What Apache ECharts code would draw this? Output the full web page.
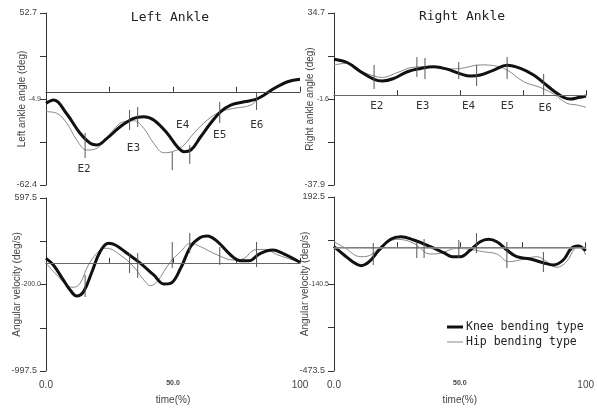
<!DOCTYPE html>
<html>
<head>
<meta charset="utf-8">
<script src="https://cdn.jsdelivr.net/npm/echarts@6/dist/echarts.min.js"></script>
<style>
  html, body { margin: 0; padding: 0; background: #fff; }
  #chart { width: 597px; height: 409px; }
</style>
</head>
<body>
<div id="chart"></div>
<script>
// [time %, value]
var leftAngleKnee = [[0,-7.7],[3,-5.5],[8,-14.4],[13.4,-27.8],[17.4,-34.5],[20,-35.6],[24,-31.2],[29.2,-23.4],[34.5,-17.8],[38.5,-16.7],[42.4,-18.9],[47.7,-27.8],[51.7,-36.8],[54.3,-40.1],[57,-39],[60.9,-30.1],[64.8,-21.1],[68.8,-13.3],[72.7,-8.9],[78,-6.7],[82.6,-5.1],[85.9,-2.2],[89.9,2.3],[95.1,6.7],[100,8.3]];
var leftAngleHip = [[0,-13.3],[4.2,-14.4],[8.2,-21.1],[12.1,-32.3],[16.1,-39],[20,-37.9],[25.3,-27.8],[30.6,-20],[34.5,-19.4],[38.5,-24.5],[42.4,-34.5],[46.4,-40.8],[49.7,-40.1],[53.6,-36.8],[58.2,-27.8],[63.5,-18.9],[68.8,-13.3],[74,-11.1],[80.6,-8.9],[84.6,-3.3],[89.9,2.3],[95.1,6.7],[100,7.6]];
var rightAngleKnee = [[0,15.2],[5.4,13.7],[10.6,9.9],[15.9,6.7],[19.2,6.0],[23.8,7.1],[29.1,9.9],[34.4,11.3],[39.6,12.0],[44.9,11.0],[50.2,9.0],[54.2,8.1],[58.1,8.5],[63.4,10.6],[68.7,12.6],[74,11.3],[79.2,8.5],[83.1,5.3],[87.1,1.9],[91.1,-0.9],[93.7,-1.6],[97,-1.0],[100,-0.3]];
var rightAngleHip = [[0,12.8],[5.4,13.5],[10.6,10.3],[15.9,8.1],[19.2,7.5],[25,9.5],[31.6,11.8],[38.2,12.0],[44.9,11.1],[50.2,11.3],[58.1,12.8],[63.4,12.5],[68.7,10.6],[75.3,5.7],[81.8,3.3],[87.1,0.5],[92.4,-3.4],[96.3,-4.1],[100,-5.1]];
var leftVelKnee = [[0,41],[2.9,-20],[6.8,-158],[9.5,-251],[12.1,-306],[14.8,-266],[18.1,-82],[21.3,102],[24.6,180],[27.3,164],[31.9,88],[37.2,-5],[42.4,-112],[46.4,-195],[49,-189],[53,-51],[56.9,148],[60.9,235],[63.5,247],[67.5,195],[72.7,72],[76.7,19],[80,19],[83.9,81],[89.2,118],[93.2,88],[100,5]];
var leftVelHip = [[0,-5],[4.2,-112],[8.2,-205],[10.8,-226],[13.4,-189],[16.7,-20],[21.3,118],[23.9,134],[29.2,72],[34.5,-36],[38.5,-158],[41.1,-211],[43.7,-174],[49,10],[53,102],[56.9,180],[60.9,148],[67.5,72],[74,26],[78,41],[82,118],[86,124],[91.3,72],[100,5]];
var rightVelKnee = [[0,2.3],[4,-29.5],[7.4,-55],[10.7,-70.4],[14,-55],[17.9,-10.4],[22.5,30.5],[26.5,40.5],[31.7,27.9],[38.3,2.3],[43.6,-20.7],[46.9,-36],[50.2,-36],[54.2,-10.4],[58.1,21.4],[61.4,30.5],[64.7,21.4],[68.7,-10.4],[72.6,-36],[77.9,-44.8],[83.1,-59],[87.1,-67.8],[91.1,-48.7],[94.3,-4],[97,5],[100,-13]];
var rightVelHip = [[0,21.4],[4,0],[10.7,-36],[14.6,-29.5],[18.6,2.3],[25.2,30.5],[31.7,15.2],[38.3,-25.7],[42.2,-23],[48.8,-4],[54,-7.7],[59.4,-17],[64.7,-25.7],[69.4,-55],[74,-48.7],[80.6,-36],[84.6,-55],[88.5,-76.6],[92.4,-55],[95.7,-4],[97.7,2.3],[100,-29.5]];

// event markers: [time %, low, high]
var leftAngleEvents = [[15.4,-44.3,-27.6],[32.9,-25.6,-12.2],[36.1,-23.6,-10.2],[49.7,-52.4,-40.3],[56.6,-48.3,-35.6],[68.4,-20.9,-6.9],[82.9,-12.2,-0.2]];
var rightAngleEvents = [[15.9,2.6,12.8],[32.9,7.7,16.1],[36.1,6.8,15.7],[49.5,6.8,14.0],[56.6,3.9,12.8],[68.7,6.8,16.1],[83.2,0.1,9.0]];
var leftVelEvents = [[15.4,-315,-112],[32.9,-94,90],[36.1,-140,90],[49.7,-48,192],[56.6,90,275],[68.4,-20,146],[82.9,-39,192]];
var rightVelEvents = [[15.6,-67.8,16.4],[32.9,-41,16.4],[35.8,-41,31.7],[49.6,-41,27.9],[56.6,-21.9,54.7],[68.7,-79.3,20.2],[83.2,-94.6,-18]];

var eventNames = ['E2', 'E3', 'E4', 'E5', 'E6'];
var leftEventLabels = [[15,-51.7],[34.4,-37.6],[53.8,-22.3],[68.4,-29.0],[83,-22.3]];
var rightEventLabels = [[17,-4.6],[35.2,-4.6],[53.4,-4.6],[68.8,-4.6],[83.8,-5.4]];

var panelTitles = ['Left Ankle', 'Right Ankle'];
var yNames = ['Left ankle angle (deg)', 'Right ankle angle (deg)', 'Angular velocity (deg/s)', 'Angular velocity (deg/s)'];
var yRanges = [[-62.4, 52.7], [-37.9, 34.7], [-997.5, 597.5], [-473.5, 192.5]];
var yLabelText = [['-62.4', '-4.9', '52.7'], ['-37.9', '-1.6', '34.7'], ['-997.5', '-200.0', '597.5'], ['-473.5', '-140.5', '192.5']];
var xLabelText = ['0.0', '50.0', '100'];
var seriesNames = ['Knee bending type', 'Hip bending type'];

var grids = [
    { left: 46, top: 13, width: 254, height: 172 },
    { left: 334, top: 13, width: 252, height: 172 },
    { left: 46, top: 198, width: 254, height: 173 },
    { left: 334, top: 197, width: 252, height: 174 }
];
var zeroLineStyle = [
    { color: '#444', width: 1 },
    { color: '#666', width: 1 },
    { color: '#666', width: 1 },
    { color: '#9a9a9a', width: 1.5 }
];

var xAxes = grids.map(function (g, i) {
    var bottom = i >= 2;
    return {
        type: 'value', gridIndex: i, min: 0, max: 100, interval: 25,
        name: bottom ? 'time(%)' : '',
        nameLocation: 'middle', nameGap: 24, nameMoveOverlap: false,
        nameTextStyle: { fontSize: 10, color: '#444', fontFamily: 'Liberation Sans' },
        axisLine: { lineStyle: { color: '#333', width: 1 } },
        axisTick: { inside: true, length: 5, lineStyle: { color: '#333' } },
        splitLine: { show: false },
        axisLabel: {
            show: bottom,
            customValues: [0, 50, 100],
            margin: 9,
            color: '#444',
            formatter: function (v) {
                if (v === 50) return '{s|' + xLabelText[1] + '}';
                return '{b|' + (v === 0 ? xLabelText[0] : xLabelText[2]) + '}';
            },
            rich: {
                b: { fontSize: 10, color: '#444', fontFamily: 'Liberation Sans' },
                s: { fontSize: 7, color: '#444', fontWeight: 'bold', fontFamily: 'Liberation Sans' }
            }
        }
    };
});

var yAxes = grids.map(function (g, i) {
    var r = yRanges[i];
    var step = (r[1] - r[0]) / 4;
    var ticks = [0, 1, 2, 3, 4].map(function (k) { return r[0] + k * step; });
    return {
        type: 'value', gridIndex: i, min: r[0], max: r[1],
        name: yNames[i], nameLocation: 'middle', nameGap: i >= 2 ? 24 : 19,
        nameMoveOverlap: false,
        nameTextStyle: { fontSize: 10, color: '#444', fontFamily: 'Liberation Sans' },
        axisLine: { show: true, lineStyle: { color: '#333', width: 1 } },
        axisTick: { show: true, length: 6, customValues: ticks, lineStyle: { color: '#333' } },
        splitLine: { show: false },
        axisLabel: {
            customValues: [ticks[0], ticks[2], ticks[4]],
            margin: 4,
            formatter: function (v) {
                if (Math.abs(v - ticks[2]) < 1e-6) return '{s|' + yLabelText[i][1] + '}';
                if (Math.abs(v - ticks[0]) < 1e-6) return '{b|' + yLabelText[i][0] + '}';
                return '{b|' + yLabelText[i][2] + '}';
            },
            rich: {
                b: { fontSize: 9, color: '#444', fontFamily: 'Liberation Sans', padding: [0, 5, 0, 0] },
                s: { fontSize: 7, color: '#444', fontFamily: 'Liberation Sans', padding: [0, 1, 0, 0] }
            }
        }
    };
});

var curves = [
    [leftAngleKnee, leftAngleHip],
    [rightAngleKnee, rightAngleHip],
    [leftVelKnee, leftVelHip],
    [rightVelKnee, rightVelHip]
];
var events = [leftAngleEvents, rightAngleEvents, leftVelEvents, rightVelEvents];

var series = [];
curves.forEach(function (pair, i) {
    series.push({
        name: seriesNames[1], type: 'line', xAxisIndex: i, yAxisIndex: i,
        data: pair[1], smooth: 0.4, symbol: 'none', z: 3,
        lineStyle: { color: '#888', width: 1 }, itemStyle: { color: '#888' }
    });
    series.push({
        name: seriesNames[0], type: 'line', xAxisIndex: i, yAxisIndex: i,
        data: pair[0], smooth: 0.4, symbol: 'none', z: 4,
        lineStyle: { color: '#111', width: 3 }, itemStyle: { color: '#111' },
        markLine: {
            silent: true, symbol: ['none', 'none'], label: { show: false },
            lineStyle: { color: zeroLineStyle[i].color, width: zeroLineStyle[i].width, type: 'solid' },
            data: [{ yAxis: 0 }]
        }
    });
    series.push({
        type: 'custom', xAxisIndex: i, yAxisIndex: i, silent: true, z: 5,
        encode: { x: 0, y: [1, 2] },
        data: events[i],
        renderItem: function (params, api) {
            var a = api.coord([api.value(0), api.value(1)]);
            var b = api.coord([api.value(0), api.value(2)]);
            return {
                type: 'line',
                shape: { x1: a[0], y1: a[1], x2: b[0], y2: b[1] },
                style: { stroke: '#555', lineWidth: 1 }
            };
        }
    });
});

[leftEventLabels, rightEventLabels].forEach(function (pts, i) {
    series.push({
        type: 'custom', xAxisIndex: i, yAxisIndex: i, silent: true, z: 6,
        encode: { x: 0, y: 1 },
        data: pts,
        renderItem: function (params, api) {
            var c = api.coord([api.value(0), api.value(1)]);
            return {
                type: 'text', x: c[0], y: c[1],
                style: {
                    text: eventNames[params.dataIndex], fill: '#333',
                    font: '11px "DejaVu Sans Mono"', align: 'center', verticalAlign: 'middle'
                }
            };
        }
    });
});

var legendText = { fontSize: 11.5, color: '#222', fontFamily: 'DejaVu Sans Mono', padding: [0, 0, 0, -2] };

var option = {
    backgroundColor: '#fff',
    animation: false,
    grid: grids,
    xAxis: xAxes,
    yAxis: yAxes,
    graphic: [
        { type: 'text', x: 170, y: 18, style: { text: panelTitles[0], font: '13px "DejaVu Sans Mono"', fill: '#222', align: 'center', verticalAlign: 'middle' } },
        { type: 'text', x: 462, y: 17, style: { text: panelTitles[1], font: '13px "DejaVu Sans Mono"', fill: '#222', align: 'center', verticalAlign: 'middle' } }
    ],
    legend: [
        {
            data: [seriesNames[0]], icon: 'rect', left: 447, top: 318,
            itemWidth: 16, itemHeight: 3, padding: [3, 0, 3, 0], textStyle: legendText
        },
        {
            data: [seriesNames[1]], icon: 'rect', left: 447, top: 333,
            itemWidth: 16, itemHeight: 1, padding: [3, 0, 3, 0], textStyle: legendText
        }
    ],
    series: series
};

var chart = echarts.init(document.getElementById('chart'));
chart.setOption(option);
</script>
</body>
</html>
